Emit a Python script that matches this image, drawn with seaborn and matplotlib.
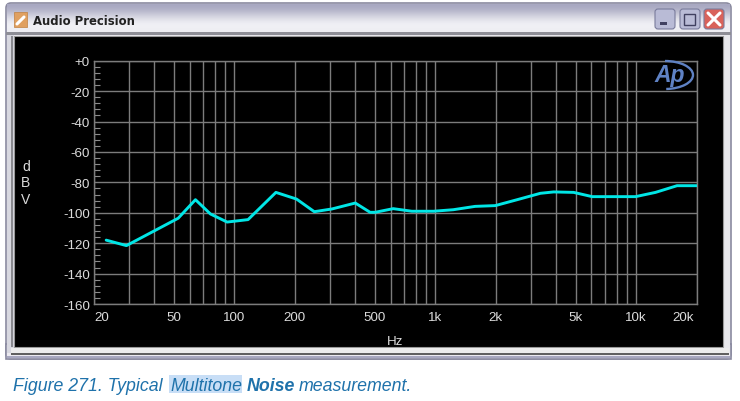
import numpy as np
import pandas as pd
import seaborn as sns
import matplotlib.pyplot as plt
from matplotlib.patches import Rectangle, FancyBboxPatch, Arc
from matplotlib.ticker import NullLocator
from matplotlib.transforms import ScaledTranslation

# Values
freq_hz = [23, 29, 52.5, 64, 76, 92, 117, 161, 204, 250, 306, 400, 474, 502, 618,
           765, 980, 1230, 1580, 1990, 2560, 3340, 3890, 4890, 6050, 9940, 12500,
           16000, 20000]
noise_dbv = [-118, -121.6, -103.6, -91.4, -100.8, -106.1, -104.5, -86.6, -91, -99.3,
             -97.5, -93.6, -99.7, -99.7, -97.3, -99, -99, -98, -95.8, -95.3, -91.4,
             -87.2, -86.3, -86.6, -89.4, -89.4, -86.6, -82.2, -82.2]

grid_freqs = [20, 30, 40, 50, 60, 70, 80, 90, 100, 200, 300, 400, 500, 600, 700, 800,
              900, 1000, 2000, 3000, 4000, 5000, 6000, 7000, 8000, 9000, 10000, 20000]
freq_labels = {20: "20", 50: "50", 100: "100", 200: "200", 500: "500", 1000: "1k",
               2000: "2k", 5000: "5k", 10000: "10k", 20000: "20k"}
db_ticks = [0, -20, -40, -60, -80, -100, -120, -140, -160]
db_labels = ["+0", "-20", "-40", "-60", "-80", "-100", "-120", "-140", "-160"]

W, H = 740, 402
sns.set_theme(style="dark")
plt.rcParams['font.family'] = ['Liberation Sans', 'DejaVu Sans']

fig = plt.figure(figsize=(W / 100, H / 100), dpi=100, facecolor="white")

# Window chrome, drawn in pixel coordinates
bg = fig.add_axes([0, 0, 1, 1], zorder=0)
bg.axis("off")
bg.add_patch(FancyBboxPatch((6, 4), 725, 356, boxstyle="round,pad=0,rounding_size=5",
                            fc="#eceaf0", ec="#8a8aa0", lw=1.2))
bg.add_patch(Rectangle((6, 345), 725, 15, fc="#eceaf0", ec="#8a8aa0", lw=1.2))
shade = np.array([[[0.66, 0.66, 0.76]], [[0.72, 0.72, 0.80]], [[0.82, 0.82, 0.87]],
                  [[0.90, 0.90, 0.93]], [[0.95, 0.95, 0.97]], [[0.93, 0.93, 0.95]]])
bg.imshow(shade, extent=(7, 730, 33, 5), aspect="auto", interpolation="bicubic", zorder=1.5)
bg.set_xlim(0, W)
bg.set_ylim(H, 0)
bg.add_patch(Rectangle((6, 33), 725, 3, fc="#8e8e96", ec="none"))
bg.add_patch(Rectangle((7, 36), 7, 318, fc="#d8d8e0", ec="none"))
bg.add_patch(Rectangle((11, 37), 2, 311, fc="#8a8a90", ec="none"))
bg.add_patch(Rectangle((723, 36), 7, 318, fc="#e8e8ec", ec="none"))
bg.add_patch(Rectangle((14, 37), 709, 311, fc="black", ec="#9a9a9a", lw=0.8))
bg.add_patch(Rectangle((11, 349), 718, 5, fc="#ececec", ec="none"))
bg.add_patch(Rectangle((11, 354), 718, 1.5, fc="#606060", ec="none"))
bg.add_patch(Rectangle((7, 357), 723, 2, fc="#a8a8c0", ec="none"))

# Title bar icon and buttons
bg.add_patch(Rectangle((14, 13), 13, 15, fc="#e0a060", ec="#c08040", lw=0.5, zorder=2))
bg.plot([17, 24], [25, 18], color="white", lw=2.2, zorder=3)
bg.text(33, 21.5, "Audio Precision", fontsize=8.4, fontweight="bold", family="DejaVu Sans",
        color="#222222", ha="left", va="center", zorder=3)
for x0, fc in [(655, "#b9bbd6"), (680, "#b9bbd6"), (704, "#d9625a")]:
    bg.add_patch(FancyBboxPatch((x0, 10), 20, 20, boxstyle="round,pad=0,rounding_size=3",
                                fc=fc, ec="#7a7c9c", lw=0.8, zorder=2))
bg.add_patch(Rectangle((660, 23), 7, 2.5, fc="#404060", ec="none", zorder=3))
bg.add_patch(Rectangle((684, 15), 11, 11, fc="none", ec="#404060", lw=1, zorder=3))
bg.plot([708, 720], [14, 26], color="white", lw=2.2, zorder=3)
bg.plot([708, 720], [26, 14], color="white", lw=2.2, zorder=3)

# Figure caption
cap_color = "#1f72ab"
bg.add_patch(Rectangle((169, 376), 73, 18, fc="#c8def6", ec="none"))
for x, txt, weight in [(13, "Figure 271. Typical", "normal"), (170, "Multitone", "normal"),
                       (247, "Noise", "bold"), (299, "measurement.", "normal")]:
    bg.text(x, 391, txt, fontsize=12.8, style="italic", fontweight=weight, color=cap_color,
            ha="left", va="baseline")

# Measurement plot
ax = fig.add_axes([94 / W, 1 - 305 / H, 602.5 / W, 243.3 / H], zorder=1)
ax.set_facecolor("black")
df = pd.DataFrame({"Hz": freq_hz, "dBV": noise_dbv})
sns.lineplot(data=df, x="Hz", y="dBV", color="#00e6e6", lw=2.1, ax=ax, zorder=5)

ax.set_xscale("log")
ax.set_xlim(20, 20000)
ax.set_ylim(-160, 0)
ax.set_xticks(grid_freqs)
ax.set_xticklabels([freq_labels.get(f, "") for f in grid_freqs])
ax.xaxis.set_minor_locator(NullLocator())
ax.set_yticks(db_ticks)
ax.set_yticklabels(db_labels)
ax.set_yticks(np.arange(-160, 1, 4), minor=True)
ax.grid(True, which="major", color="#7c7c7c", lw=1)
ax.tick_params(axis="x", which="major", length=0, pad=5, labelsize=9.6, colors="#dcdcdc")
ax.tick_params(axis="y", which="major", length=0, pad=3, labelsize=9.6, colors="#dcdcdc")
ax.tick_params(axis="y", which="minor", left=True, direction="in", length=4, width=0.8,
               color="#8c8c8c")
for s in ax.spines.values():
    s.set_color("#7c7c7c")
    s.set_linewidth(1)

labels = [t for t in ax.get_xticklabels() if t.get_text()]
labels[0].set_ha("left")
labels[-1].set_ha("right")
labels[-1].set_transform(labels[-1].get_transform()
                         + ScaledTranslation(-3 / 100, 0, fig.dpi_scale_trans))

ax.set_xlabel("Hz", fontsize=9.6, color="#dcdcdc")
ax.xaxis.set_label_coords(0.499, -0.128)
ax.set_ylabel("d\nB\nV", rotation=0, fontsize=10, color="#dcdcdc", linespacing=1.2, va="center",
              ha="center")
ax.yaxis.set_label_coords(-0.113, 0.5)

# AP logo sits over the plot
top = fig.add_axes([0, 0, 1, 1], zorder=2)
top.set_xlim(0, W)
top.set_ylim(H, 0)
top.axis("off")
top.patch.set_alpha(0)
top.text(670, 75.5, "Ap", fontsize=16.5, style="italic", fontweight="bold", color="#5f82c4",
         ha="center", va="center")
top.add_patch(Arc((665, 76), 56, 28, theta1=-90, theta2=85, color="#5f82c4", lw=1.7))

fig.savefig("out.png", dpi=100, facecolor="white")
